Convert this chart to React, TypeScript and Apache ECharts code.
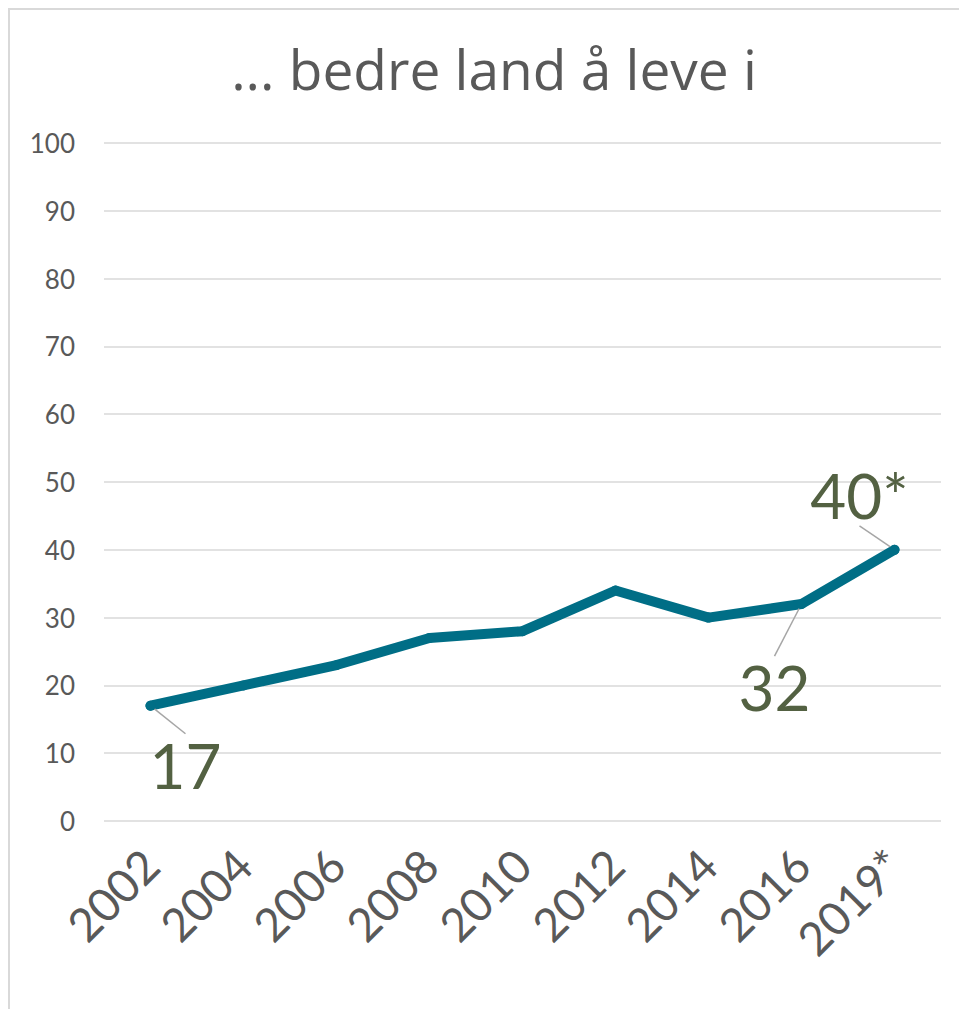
import React, { useEffect, useRef } from "react";
import * as echarts from "echarts";

const titleText = "... bedre land å leve i";
const years = ["2002", "2004", "2006", "2008", "2010", "2012", "2014", "2016", "2019*"];
const values = [17, 20, 23, 27, 28, 34, 30, 32, 40];
const labelTexts: Record<number, string> = { 0: "17", 7: "32", 8: "40*" };
const labelShift: Record<number, [number, number]> = { 0: [35, 59], 7: [-27, 83], 8: [-35, -55] };
const labelPad: Record<number, number[]> = { 0: [22, 0, 0, 0], 7: [22, 0, 0, 0], 8: [0, 0, 18, 0] };
const yMin = 0;
const yMax = 100;
const yStep = 10;

export default function App() {
  const ref = useRef<HTMLDivElement>(null);
  useEffect(() => {
    if (!ref.current) return;
    const chart = echarts.init(ref.current, undefined, { renderer: "svg" });
    chart.setOption({
      animation: false,
      backgroundColor: "#ffffff",
      title: {
        text: titleText,
        left: 479,
        textAlign: "center",
        top: 26,
        textStyle: { fontFamily: "Open Sans", fontSize: 55, fontWeight: "normal", color: "#595959" },
      },
      grid: { left: 94, right: 18, top: 133, bottom: 188, containLabel: false },
      xAxis: {
        type: "category",
        data: years,
        boundaryGap: true,
        axisLine: { show: false },
        axisTick: { show: false },
        axisLabel: {
          rotate: 45,
          margin: 36,
          interval: 0,
          fontFamily: "Lato",
          fontSize: 46,
          color: "#595959",
        },
      },
      yAxis: {
        type: "value",
        min: yMin,
        max: yMax,
        interval: yStep,
        axisLine: { show: false },
        axisTick: { show: false },
        axisLabel: { margin: 29, fontFamily: "Lato", fontSize: 26, color: "#595959" },
        splitLine: { lineStyle: { color: "#d9d9d9", width: 1.5 } },
      },
      series: [
        {
          type: "line",
          data: values.map((v, i) => ({
            value: v,
            label: labelTexts[i]
              ? {
                  show: true,
                  position: "inside",
                  formatter: labelTexts[i],
                  fontFamily: "Lato",
                  fontSize: 62,
                  color: "#536142",
                  padding: labelPad[i],
                }
              : { show: false },
            labelLine: labelTexts[i] ? { show: true } : { show: false },
          })),
          symbol: "circle",
          symbolSize: 10,
          showSymbol: true,
          itemStyle: { color: "#006E86" },
          lineStyle: { color: "#006E86", width: 10, cap: "round", join: "round" },
          labelLine: { show: true, lineStyle: { color: "#a6a6a6", width: 1.5 } },
          labelLayout: (p: any) => {
            const s = labelShift[p.dataIndex];
            return s ? { dx: s[0], dy: s[1] } : {};
          },
          z: 3,
        },
      ],
    });
    return () => chart.dispose();
  }, []);
  return (
    <div
      style={{
        position: "fixed",
        left: 8,
        top: 8,
        width: 1000,
        height: 1050,
        boxSizing: "border-box",
        borderTop: "2px solid #d9d9d9",
        borderLeft: "2px solid #d9d9d9",
        overflow: "hidden",
        background: "#ffffff",
      }}
    >
      <div ref={ref} style={{ width: 949, height: 999 }} />
    </div>
  );
}
